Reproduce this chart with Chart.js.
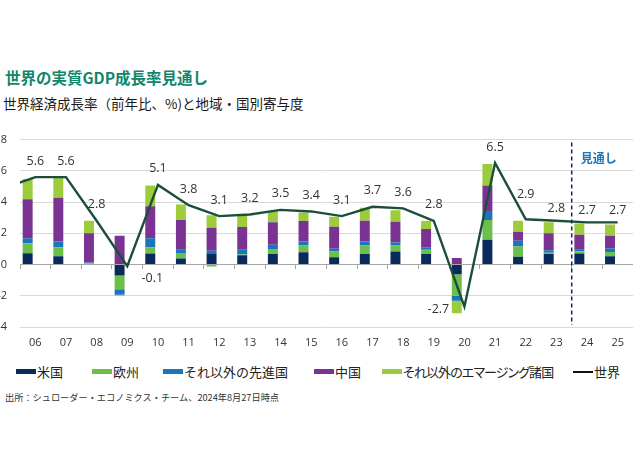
<!DOCTYPE html>
<html lang="ja">
<head>
<meta charset="utf-8">
<script src="https://cdn.jsdelivr.net/npm/chart.js@4"></script>
<style>
  html, body { margin: 0; padding: 0; background: #fff; }
  body {
    width: 633px; height: 474px; position: relative; overflow: hidden;
    font-family: 'Noto Sans CJK JP', 'Open Sans', sans-serif; color: #222;
  }
  .abs { position: absolute; white-space: nowrap; line-height: 1; }
  #title { left: 5px; top: 70px; font-size: 15.5px; font-weight: bold; color: #10866b; }
  #subtitle { left: 3px; top: 97px; font-size: 13.5px; color: #1a1a1a; }
  #wrap { position: absolute; left: -20px; top: 120px; width: 653px; height: 240px; }
  #legend { left: 0; top: 365px; width: 633px; height: 16px; font-size: 13px; color: #222; }
  #legend .item { position: absolute; top: 0; display: flex; align-items: center; white-space: nowrap; }
  #legend .sw { display: inline-block; width: 20px; height: 5px; margin-right: 1px; }
  #legend .ln { height: 2px; }
  #legend .tight { font-feature-settings: "palt"; letter-spacing: -0.9px; }
  #footer { left: 5px; top: 393px; font-size: 9.2px; color: #333; }
</style>
</head>
<body>
<div id="title" class="abs">世界の実質GDP成長率見通し</div>
<div id="subtitle" class="abs">世界経済成長率（前年比、%)と地域・国別寄与度</div>
<div id="wrap"><canvas id="gdp" width="653" height="240"></canvas></div>
<div id="legend" class="abs"></div>
<div id="footer" class="abs">出所：シュローダー・エコノミクス・チーム、2024年8月27日時点</div>
<script>
// ## data ##########################################################
const years = ['06','07','08','09','10','11','12','13','14','15',
               '16','17','18','19','20','21','22','23','24','25'];
const forecastFrom = '24';

// contributions (%pt)
const usa     = [0.73, 0.53, 0.00, -0.70, 0.70, 0.38, 0.67, 0.60, 0.67, 0.78,
                 0.46, 0.67, 0.84, 0.67, -0.63, 1.58, 0.50, 0.67, 0.70, 0.53];
const europe  = [0.64, 0.57, 0.08, -0.88, 0.40, 0.36, -0.12, 0.05, 0.32, 0.44,
                 0.38, 0.55, 0.38, 0.28, -1.37, 1.27, 0.65, 0.08, 0.15, 0.27];
const otherDm = [0.31, 0.37, 0.05, -0.36, 0.58, 0.21, 0.22, 0.30, 0.28, 0.25,
                 0.17, 0.25, 0.19, 0.15, -0.32, 0.57, 0.38, 0.17, 0.10, 0.25];
const china   = [2.50, 2.81, 1.87, 1.85, 2.05, 1.90, 1.47, 1.45, 1.43, 1.31,
                 1.41, 1.33, 1.33, 1.18, 0.42, 1.64, 0.57, 1.08, 0.95, 0.80];
const otherEm = [1.30, 1.35, 0.80, -0.06, 1.33, 0.99, 0.80, 0.80, 0.72, 0.55,
                 0.64, 0.83, 0.74, 0.50, -0.80, 1.37, 0.70, 0.70, 0.73, 0.72];

// world growth (%); the line enters from 2005, which sits just off the left edge
const world   = [5.6, 5.6, 2.8, -0.1, 5.1, 3.8, 3.1, 3.2, 3.5, 3.4,
                 3.1, 3.7, 3.6, 2.8, -2.7, 6.5, 2.9, 2.8, 2.7, 2.7];
const world05 = 4.9;

const yTicks = [-4, -2, 0, 2, 4, 6, 8];

// ## styles ########################################################
const C = {
  usa: '#0b2a5c', europe: '#6cc04a', otherDm: '#1b75bc',
  china: '#7b3393', otherEm: '#9ccb3b', world: '#1c4f3a'
};
const latin = "'Open Sans', 'Noto Sans CJK JP', sans-serif";

// label nudges (px) where the default "above the point" spot was not used
const labelNudge = { '09': [25, 12], '20': [-26, 3], '22': [0, -25],
                     '23': [0, -12], '24': [0, -12], '25': [0, -12] };

// ## legend (html) #################################################
// [text, colour, kind, left px]
const legendItems = [
  ['米国', C.usa, 'box', 16], ['欧州', C.europe, 'box', 92], ['それ以外の先進国', C.otherDm, 'box', 163],
  ['中国', C.china, 'box', 314], ['それ以外のエマージング諸国', C.otherEm, 'box', 382], ['世界', '#111', 'line', 573]
];
document.getElementById('legend').innerHTML = legendItems.map(([t, c, k, left]) =>
  `<span class="item${t.length > 10 ? ' tight' : ''}" style="left:${left}px">` +
  `<span class="sw${k === 'line' ? ' ln' : ''}" style="background:${c}"></span>${t}</span>`
).join('');

// ## overlay: forecast divider + value labels ######################
const overlay = {
  id: 'overlay',
  afterDatasetsDraw(chart) {
    const { ctx, chartArea, scales } = chart;
    const i = years.indexOf(forecastFrom);
    const xDiv = (scales.x.getPixelForValue(i - 1) + scales.x.getPixelForValue(i)) / 2;
    ctx.save();
    ctx.strokeStyle = '#0b2a5c';
    ctx.lineWidth = 1.5;
    ctx.setLineDash([4, 3]);
    ctx.beginPath();
    ctx.moveTo(xDiv, chartArea.top + 3);
    ctx.lineTo(xDiv, chartArea.bottom - 2);
    ctx.stroke();
    ctx.setLineDash([]);

    ctx.fillStyle = '#1b75bc';
    ctx.font = "bold 12px 'Noto Sans CJK JP'";
    ctx.textAlign = 'left';
    ctx.textBaseline = 'middle';
    ctx.fillText('見通し', xDiv + 9, chartArea.top + 19);

    const meta = chart.getDatasetMeta(5);
    ctx.fillStyle = '#333';
    ctx.font = '12.5px ' + latin;
    ctx.textAlign = 'center';
    years.forEach((y, k) => {
      const pt = meta.data[k + 1];
      const [dx, dy] = labelNudge[y] || [0, -16];
      ctx.fillText(world[k].toFixed(1), pt.x + dx, pt.y + dy);
    });
    ctx.restore();
  }
};

// ## chart #########################################################
const bar = (label, data, color) => ({
  type: 'bar', label, data, backgroundColor: color,
  xAxisID: 'x', yAxisID: 'y', stack: 'contrib', order: 1,
  categoryPercentage: 1, barPercentage: 0.65
});

new Chart(document.getElementById('gdp'), {
  type: 'bar',
  data: {
    labels: years,
    datasets: [
      bar('米国', usa, C.usa),
      bar('欧州', europe, C.europe),
      bar('それ以外の先進国', otherDm, C.otherDm),
      bar('中国', china, C.china),
      bar('それ以外のエマージング諸国', otherEm, C.otherEm),
      {
        type: 'line', label: '世界',
        data: [{ x: -1, y: world05 }].concat(world.map((v, k) => ({ x: k, y: v }))),
        xAxisID: 'x2', yAxisID: 'y', stack: 'world', order: 0,
        borderColor: C.world, borderWidth: 2.4, pointRadius: 0, tension: 0, fill: false
      }
    ]
  },
  options: {
    responsive: false,
    animation: false,
    layout: { padding: { top: 17, left: 0, right: 0, bottom: 0 } },
    plugins: { legend: { display: false }, tooltip: { enabled: false } },
    scales: {
      x: {
        type: 'category', stacked: true, offset: true,
        grid: { display: false, drawTicks: false },
        border: { display: false },
        ticks: { color: '#333', font: { family: latin, size: 11 }, padding: 9, maxRotation: 0, autoSkip: false },
        afterFit: s => { s.height = 33; }
      },
      x0: {
        type: 'category', position: { y: 0 }, offset: true,
        grid: { offset: true, drawOnChartArea: false, drawTicks: true, tickLength: 4, color: '#a6a6a6' },
        border: { display: true, color: '#a6a6a6', width: 1 },
        ticks: { display: false, autoSkip: false }
      },
      x2: {
        type: 'linear', display: false, offset: false, stacked: false,
        grid: { offset: false }, min: -0.5, max: 19.5, grace: 0
      },
      y: {
        stacked: true, min: yTicks[0], max: yTicks[yTicks.length - 1],
        afterBuildTicks: s => { s.ticks = yTicks.map(v => ({ value: v })); },
        grid: { color: '#d9d9d9', drawTicks: false },
        border: { display: false },
        ticks: { color: '#333', font: { family: latin, size: 11 }, padding: 13 },
        afterFit: s => { s.width = 40; }
      }
    }
  },
  plugins: [overlay]
});
</script>
</body>
</html>
